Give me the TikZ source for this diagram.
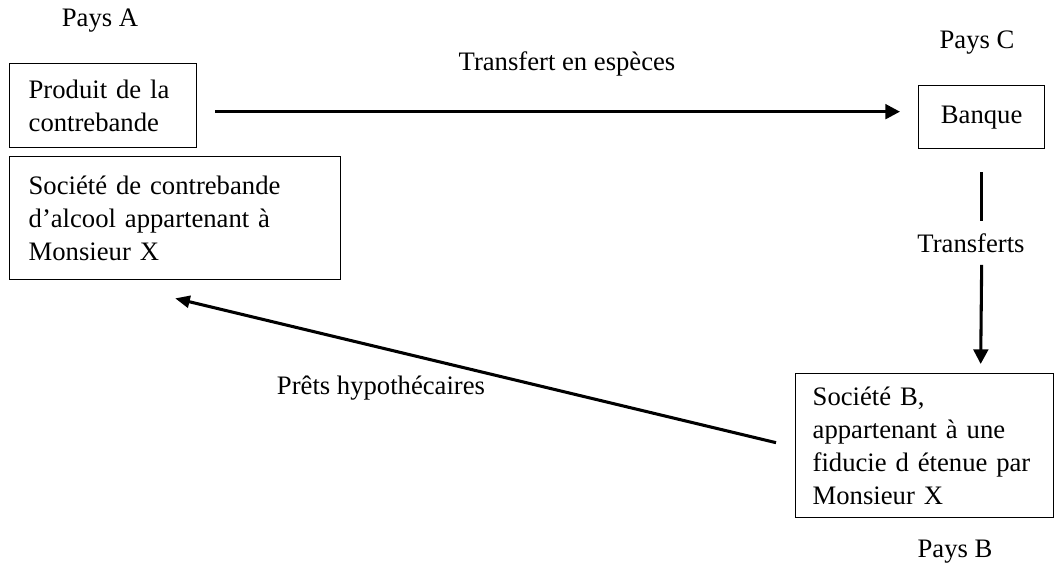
\documentclass[tikz,border=0pt]{standalone}
\usepackage{fontspec}
\setmainfont{Liberation Serif}
\usetikzlibrary{arrows.meta}
\begin{document}
\begin{tikzpicture}[x=0.75pt,y=-0.75pt,
  txt/.style={font=\fontsize{20}{24.75}\selectfont, inner sep=0pt},
  boxnode/.style={draw, line width=1pt, anchor=north west, align=left,
    font=\fontsize{20}{24.75}\selectfont, inner xsep=14.25pt, inner ysep=2pt},
  flow/.style={line width=2.3pt, -{Triangle[length=11pt,width=11pt]}},
  plainflow/.style={line width=2.3pt}]
\useasboundingbox (0,0) rectangle (1055,567);
% boxes
\node[boxnode, text width=111.75pt, minimum height=63pt] (prod) at (9,63) {Produit de la\\contrebande};
\node[boxnode, text width=219.75pt, minimum height=92.25pt] (soca) at (9,156) {Société de contrebande\\d’alcool appartenant à\\Monsieur X};
\node[boxnode, align=center, text width=66pt, minimum height=47.25pt] (bank) at (918,85) {Banque};
\node[boxnode, inner xsep=12.75pt, text width=168pt, minimum height=108pt] (socb) at (795,373) {Société B,\\appartenant à une\\fiducie d étenue par\\Monsieur X};
% labels
\node[txt] (paysa) at (100,21) {Pays A};
\node[txt] (paysc) at (977,43) {Pays C};
\node[txt] (paysb) at (955,552) {Pays B};
\node[txt] (tesp) at (567,64) {Transfert en espèces};
\node[txt] (trans) at (971,243) {Transferts};
\node[txt] (prets) at (381,388) {Prêts hypothécaires};
% connectors
\draw[flow] ([shift={(18,6)}]prod.east) -- ([shift={(-18,-5.5)}]bank.west);
\draw[plainflow] ([shift={(0,23)}]bank.south) -- ([shift={(0,-12)}]trans.north -| bank.south);
\draw[flow] ([shift={(0,12)}]trans.south -| bank.south) -- ([shift={(-1,-9)}]socb.north -| bank.south);
\draw[flow, -{Triangle[length=11pt,width=9pt]}] ([shift={(-19,-3)}]socb.west) -- ([shift={(0,18)}]soca.south);
\end{tikzpicture}
\end{document}
